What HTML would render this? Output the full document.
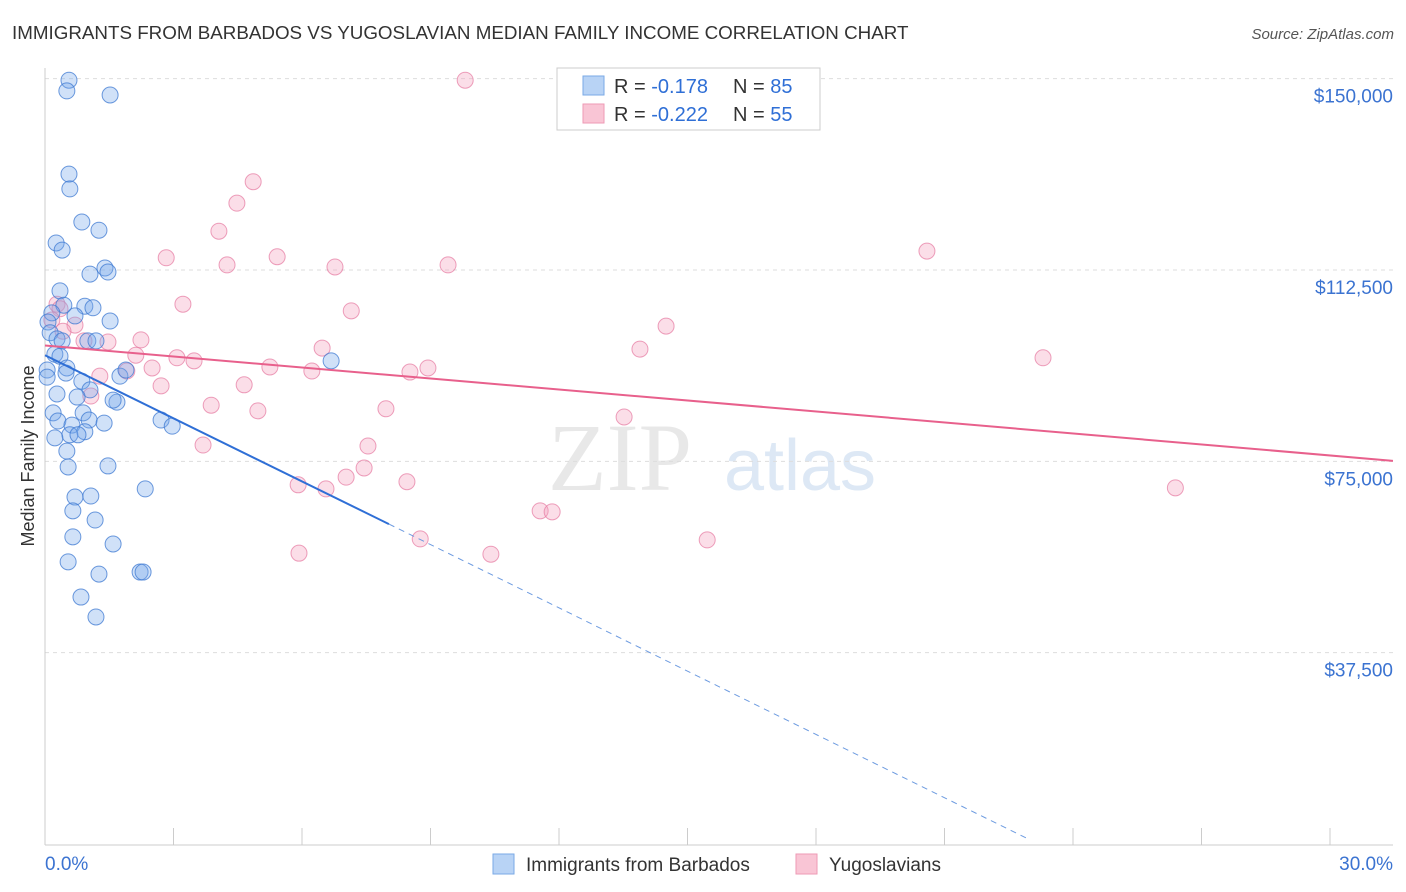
<!DOCTYPE html>
<html><head><meta charset="utf-8"><style>
body{margin:0;background:#fff;font-family:"Liberation Sans",sans-serif;}
#wrap{position:relative;width:1406px;height:892px;overflow:hidden}
</style></head><body>
<div id="wrap">
<svg id="svg" width="1406" height="892" xmlns="http://www.w3.org/2000/svg">
<text x="12" y="39" font-size="18.8" fill="#333">IMMIGRANTS FROM BARBADOS VS YUGOSLAVIAN MEDIAN FAMILY INCOME CORRELATION CHART</text>
<text x="1394" y="39" font-size="15" fill="#555" font-style="italic" text-anchor="end">Source: ZipAtlas.com</text>
<text x="620" y="490" font-size="96" fill="#e8e8e8" font-family="Liberation Serif,serif" text-anchor="middle">ZIP</text>
<text x="800" y="490" font-size="72" fill="#dde8f5" text-anchor="middle">atlas</text>
<text transform="translate(34,456) rotate(-90)" font-size="18" fill="#333" text-anchor="middle">Median Family Income</text>
<g id="grid"></g><g id="axes"></g><g id="marks"></g>
<g>
<rect x="557" y="68" width="263" height="62" fill="#fff" stroke="#ccc"/>
<rect x="583" y="76" width="21" height="19" fill="#b8d3f5" stroke="#7aa9e6"/>
<rect x="583" y="104" width="21" height="19" fill="#f9c5d5" stroke="#ee9ab5"/>
<text x="614" y="93" font-size="20" fill="#333">R = <tspan fill="#2f6fd6">-0.178</tspan></text>
<text x="733" y="93" font-size="20" fill="#333">N = <tspan fill="#2f6fd6">85</tspan></text>
<text x="614" y="121" font-size="20" fill="#333">R = <tspan fill="#2f6fd6">-0.222</tspan></text>
<text x="733" y="121" font-size="20" fill="#333">N = <tspan fill="#2f6fd6">55</tspan></text>
</g>
<g>
<rect x="493" y="854" width="21" height="20" fill="#b8d3f5" stroke="#7aa9e6"/>
<text x="526" y="871" font-size="19" fill="#333">Immigrants from Barbados</text>
<rect x="796" y="854" width="21" height="20" fill="#f9c5d5" stroke="#ee9ab5"/>
<text x="829" y="871" font-size="19" fill="#333">Yugoslavians</text>
</g>
</svg>
</div>
<script>
const yTicks=[37500,75000,112500,150000];
const yTickLabels=["$37,500","$75,000","$112,500","$150,000"];
const xTickLabels=["0.0%","30.0%"];
const blueX=[0.56,0.51,1.52,0.56,0.58,0.86,1.26,0.26,0.40,1.40,1.05,1.47,0.35,0.44,0.93,1.12,0.16,1.52,0.70,0.07,0.12,0.28,0.40,1.00,1.19,0.23,0.35,0.51,0.05,0.49,0.86,0.05,1.05,0.28,0.75,1.75,1.89,1.68,1.59,0.19,0.89,1.03,0.30,1.38,0.63,0.93,0.58,0.77,0.23,0.51,0.54,1.47,2.34,0.70,1.07,0.65,1.17,0.65,1.59,0.54,1.26,2.22,2.29,0.84,1.19,6.68,2.71,2.97];
const blueY=[149.7,147.6,146.8,131.3,128.4,121.9,120.3,117.8,116.4,112.9,111.7,112.1,108.4,105.6,105.4,105.1,104.1,102.5,103.5,102.3,100.2,99.0,98.6,98.6,98.6,96.0,95.6,93.3,92.9,92.3,90.7,91.5,89.0,88.2,87.6,91.7,92.9,86.6,87.0,84.5,84.5,83.1,82.9,82.5,82.1,80.8,80.2,80.2,79.6,77.0,73.9,74.1,69.6,68.0,68.2,65.3,63.5,60.2,58.8,55.3,52.9,53.3,53.3,48.4,44.5,94.7,83.1,81.9];
const pinkX=[9.81,4.86,4.48,4.06,2.83,5.42,4.25,6.77,9.41,20.59,3.22,7.15,0.28,0.35,14.50,0.70,2.24,1.47,0.91,6.47,13.89,23.30,2.12,3.08,3.48,5.25,6.23,8.52,8.94,2.50,1.91,1.28,2.71,4.65,3.88,4.97,7.96,13.52,3.69,7.54,7.45,7.03,5.91,6.56,8.45,26.39,11.56,11.84,8.76,15.46,5.93,10.41,0.16,0.42,1.07];
const pinkY=[149.7,129.8,125.6,120.1,114.9,115.1,113.5,113.1,113.5,116.2,105.8,104.5,105.8,104.9,101.5,101.7,98.8,98.4,98.6,97.2,97.0,95.3,95.8,95.3,94.7,93.5,92.7,92.5,93.3,93.3,92.7,91.7,89.8,90.0,86.0,84.9,85.3,83.7,78.2,78.0,73.7,71.9,70.4,69.6,71.0,69.8,65.3,65.1,59.8,59.6,57.0,56.8,102.7,100.5,87.8];
const blueTrend=[[0,95.8],[8.03,62.7],[23.0,0.8]];
const pinkTrend=[[0,97.7],[31.47,75.1]];

const NS="http://www.w3.org/2000/svg";
const X=v=>45+v/30*1285;
const Y=v=>844-v/37.5*191.33;
function mk(tag,attrs,parent){const e=document.createElementNS(NS,tag);for(const k in attrs)e.setAttribute(k,attrs[k]);document.getElementById(parent).appendChild(e);return e;}
yTicks.forEach((t,i)=>{
 const g=mk('line',{x1:45,x2:1393,y1:Y(t/1000),y2:Y(t/1000),stroke:'#ddd','stroke-dasharray':'4,4'},'grid');
 
 
 const l=mk('text',{x:1393,y:Y(t/1000)+24,'font-size':19,fill:'#3b73d1','text-anchor':'end'},'grid');
 l.textContent=yTickLabels[i];
 
 
});
let a=mk('line',{x1:45,x2:45,y1:68,y2:845,stroke:'#ccc'},'axes');


a=mk('line',{x1:45,x2:1393,y1:845,y2:845,stroke:'#ccc'},'axes');


for(let i=1;i<=10;i++){
 const t=mk('line',{x1:X(i*3),x2:X(i*3),y1:828,y2:845,stroke:'#ccc'},'axes');
 
 
}
[[0,45,'start'],[30,1393,'end']].forEach((p,i)=>{
 const t=mk('text',{x:p[1],y:870,'font-size':19,fill:'#3b73d1','text-anchor':p[2]},'axes');
 t.textContent=xTickLabels[i];
 
 
});
pinkX.forEach((x,i)=>{
 const c=mk('circle',{cx:X(x),cy:Y(pinkY[i]),r:8,fill:'rgba(244,160,190,0.35)',stroke:'rgba(230,120,160,0.7)','stroke-width':1},'marks');
 
 
});
blueX.forEach((x,i)=>{
 const c=mk('circle',{cx:X(x),cy:Y(blueY[i]),r:8,fill:'rgba(120,170,235,0.35)',stroke:'rgba(60,120,210,0.75)','stroke-width':1},'marks');
 
 
});
let l=mk('line',{x1:X(blueTrend[0][0]),y1:Y(blueTrend[0][1]),x2:X(blueTrend[1][0]),y2:Y(blueTrend[1][1]),stroke:'#2f6fd6','stroke-width':2},'marks');


l=mk('line',{x1:X(blueTrend[1][0]),y1:Y(blueTrend[1][1]),x2:X(blueTrend[2][0]),y2:Y(blueTrend[2][1]),stroke:'#6d9be0','stroke-width':1,'stroke-dasharray':'6,5'},'marks');


l=mk('line',{x1:X(pinkTrend[0][0]),y1:Y(pinkTrend[0][1]),x2:X(pinkTrend[1][0]),y2:Y(pinkTrend[1][1]),stroke:'#e8608c','stroke-width':2},'marks');


</script>
</body></html>
